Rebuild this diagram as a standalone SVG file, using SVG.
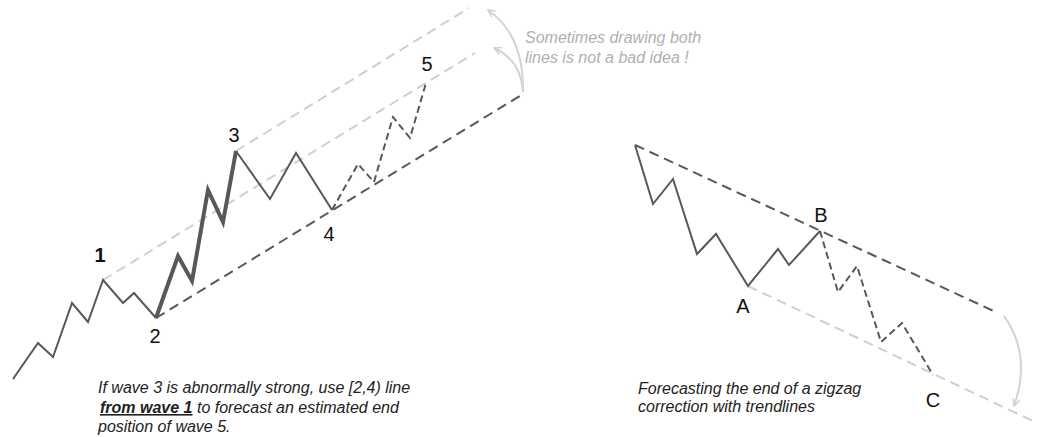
<svg xmlns="http://www.w3.org/2000/svg" width="1042" height="437" viewBox="0 0 1042 437">
<defs>
<marker id="ah" viewBox="0 0 10 10" refX="9" refY="5" markerWidth="9" markerHeight="9" markerUnits="userSpaceOnUse" orient="auto">
<polyline points="1,1 9,5 1,9" fill="none" stroke="#d0d0d0" stroke-width="1.6"/>
</marker>
</defs>
<style>
.price{fill:none;stroke:#585858;stroke-width:2;stroke-linejoin:miter}
.thick{fill:none;stroke:#585858;stroke-width:4}
.dk{fill:none;stroke:#585858;stroke-width:2;stroke-dasharray:10,6}
.lt{fill:none;stroke:#cfcfcf;stroke-width:2;stroke-dasharray:10,6}
.proj{fill:none;stroke:#585858;stroke-width:2;stroke-dasharray:7,4}
.arr{fill:none;stroke:#d3d3d3;stroke-width:2;marker-end:url(#ah)}
.lbl{font-family:"Liberation Sans",Arial,sans-serif;font-size:20px;fill:#111;text-anchor:middle}
.note{font-family:"Liberation Sans",Arial,sans-serif;font-size:16px;font-style:italic;fill:#222}
.gnote{font-family:"Liberation Sans",Arial,sans-serif;font-size:16px;font-style:italic;fill:#b0b0b0}
</style>
<g id="connectors">
<line class="lt" x1="236" y1="151" x2="469" y2="8"/>
<line class="lt" x1="103" y1="280" x2="475" y2="53"/>
<line class="dk" x1="156" y1="318" x2="523" y2="94"/>
<path class="arr" d="M523,92 Q524,35 488,10"/>
<path class="arr" d="M523,92 Q521,60 494,48"/>
<line class="dk" x1="635" y1="145" x2="998" y2="313"/>
<line class="lt" x1="748" y1="286" x2="1037" y2="423"/>
<path class="arr" d="M1004,316 Q1032,355 1014,406"/>
</g>
<g id="wave-left">
<polyline class="price" points="13,379 38,343 53,357 72,303 88,322 103,280 123,303 134,293 156,318"/>
<polyline class="thick" points="156,318 178,256 192,281 208,190 223,222 236,151"/>
<polyline class="price" points="236,151 270,199 296,153 332,210"/>
<polyline class="proj" points="332,210 358,164 374,182 393,117 410,138 426,83"/>
</g>
<g id="wave-right">
<polyline class="price" points="635,145 653,204 673,179 697,254 716,234 748,286 778,249 789,265 820,231"/>
<polyline class="proj" points="820,231 838,292 857,266 881,342 902,323 933,375"/>
</g>
<g id="labels">
<text class="lbl" x="100" y="262" font-weight="bold">1</text>
<text class="lbl" x="155" y="343">2</text>
<text class="lbl" x="234" y="142">3</text>
<text class="lbl" x="329" y="241">4</text>
<text class="lbl" x="427" y="71">5</text>
<text class="lbl" x="743" y="313">A</text>
<text class="lbl" x="821" y="222">B</text>
<text class="lbl" x="933" y="407">C</text>
</g>
<g id="note-top">
<text class="gnote" x="525" y="43">Sometimes drawing both</text>
<text class="gnote" x="525" y="63">lines is not a bad idea !</text>
</g>
<g id="note-left">
<text class="note" x="98" y="393" font-size="15.8">If wave 3 is abnormally strong, use [2,4) line</text>
<text class="note" x="100" y="413" font-size="15.8"><tspan font-weight="bold" text-decoration="underline">from wave 1</tspan> to forecast an estimated end</text>
<text class="note" x="98" y="432" font-size="15.8">position of wave 5.</text>
</g>
<g id="note-right">
<text class="note" x="638" y="394">Forecasting the end of a zigzag</text>
<text class="note" x="638" y="412">correction with trendlines</text>
</g>
</svg>
